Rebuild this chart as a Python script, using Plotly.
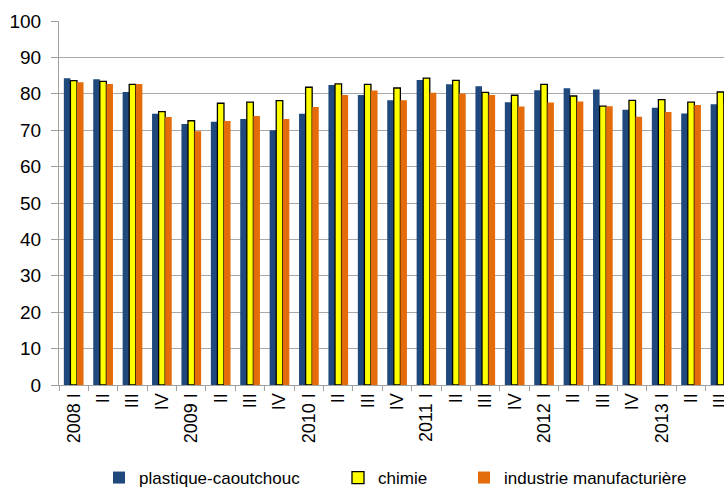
import plotly.graph_objects as go

categories = ["2008 I", "II", "III", "IV",
              "2009 I", "II", "III", "IV",
              "2010 I", "II", "III", "IV",
              "2011 I", "II", "III", "IV",
              "2012 I", "II", "III", "IV",
              "2013 I", "II", "III"]

plastique = [84.3, 84.0, 80.5, 74.5, 71.7, 72.3, 73.1, 70.0,
             74.5, 82.4, 79.7, 78.2, 83.8, 82.6, 82.1, 77.7,
             81.0, 81.5, 81.2, 75.6, 76.2, 74.6, 77.1]
chimie = [83.6, 83.4, 82.6, 75.1, 72.6, 77.4, 77.7, 78.1,
          81.8, 82.7, 82.6, 81.6, 84.3, 83.7, 80.4, 79.6,
          82.6, 79.4, 76.6, 78.2, 78.4, 77.7, 80.5]
industrie = [83.2, 82.7, 82.7, 73.6, 69.7, 72.5, 73.9, 73.1,
             76.4, 79.7, 80.9, 78.2, 80.3, 80.1, 79.7, 76.5,
             77.6, 77.9, 76.6, 73.7, 75.0, 76.9, 77.5]

names = ["plastique-caoutchouc", "chimie", "industrie manufacturière"]

FONT = "Liberation Sans, Arial, sans-serif"
x = list(range(len(categories)))

L, R, T, B, W, H = 59, 0, 21, 102, 724, 487

fig = go.Figure()
fig.add_trace(go.Bar(x=x, y=plastique, name=names[0], legend="legend",
                     marker=dict(color="#1F497D", line=dict(width=0))))
fig.add_trace(go.Bar(x=x, y=chimie, name=names[1], legend="legend2",
                     marker=dict(color="#FFFF00", line=dict(color="#000000", width=1.3))))
fig.add_trace(go.Bar(x=x, y=industrie, name=names[2], legend="legend3",
                     marker=dict(color="#E46C0A", line=dict(width=0))))

leg_common = dict(orientation="h", xref="container", yref="container",
                  yanchor="middle", y=1 - 478 / H, xanchor="left",
                  font=dict(family=FONT, size=17, color="#000000"),
                  itemwidth=30, bgcolor="rgba(0,0,0,0)")

fig.update_layout(
    width=W, height=H,
    margin=dict(l=L, r=R, t=T, b=B, autoexpand=False),
    paper_bgcolor="white", plot_bgcolor="white",
    barmode="group", bargap=0.33, bargroupgap=0,
    font=dict(family=FONT, size=18, color="#000000"),
    showlegend=True,
    legend=dict(x=99 / W, **leg_common),
    legend2=dict(x=338 / W, **leg_common),
    legend3=dict(x=464 / W, **leg_common),
    xaxis=dict(
        range=[-0.5, 22.12], automargin=False,
        tickmode="array", tickvals=x, ticktext=categories,
        tickangle=-90, ticks="", showgrid=False,
        ticklabeloverflow="allow",
        showline=True, linecolor="#A0A0A0", linewidth=1,
        tickfont=dict(family=FONT, size=18),
        minor=dict(tick0=-0.5, dtick=1, ticks="outside", ticklen=5,
                   tickcolor="#A0A0A0", showgrid=False),
        zeroline=False,
    ),
    yaxis=dict(
        range=[0, 100], dtick=10, tick0=0, automargin=False,
        showgrid=True, gridcolor="#A8A8A8", gridwidth=1,
        showline=True, linecolor="#A0A0A0", linewidth=1,
        ticks="outside", ticklen=7, tickcolor="#A0A0A0",
        ticklabelstandoff=6,
        tickfont=dict(family=FONT, size=19),
        zeroline=False,
    ),
)

fig.write_html("out.html")
